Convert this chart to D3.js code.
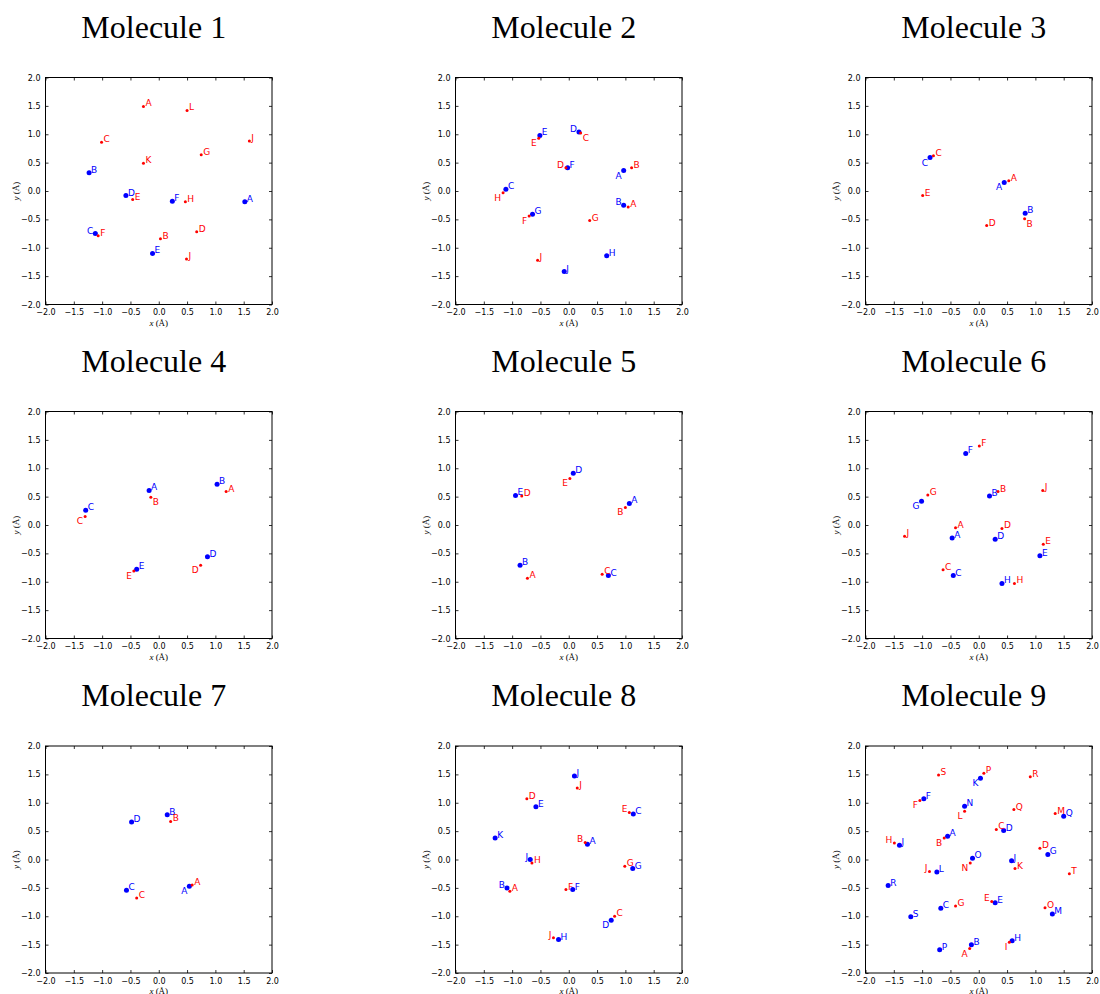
<!DOCTYPE html>
<html><head><meta charset="utf-8">
<script src="https://cdn.jsdelivr.net/npm/d3@7"></script>
<style>body{margin:0;background:#fff} svg{display:block}</style>
</head><body>
<svg id="c" width="1100" height="994"></svg>
<script>
// ---------- data ----------
const titles = ["Molecule 1","Molecule 2","Molecule 3","Molecule 4","Molecule 5","Molecule 6","Molecule 7","Molecule 8","Molecule 9"];
const tickValues = [-2,-1.5,-1,-0.5,0,0.5,1,1.5,2];
const axisDomain = [-2, 2];

const blueNames = [
  ["A","B","C","D","E","F"],
  ["A","B","C","D","E","F","G","H","J"],
  ["A","B","C"],
  ["A","B","C","D","E"],
  ["A","B","C","D","E"],
  ["A","B","C","D","E","F","G","H"],
  ["A","B","C","D"],
  ["A","B","C","D","E","F","G","H","J","J","K"],
  ["A","B","C","D","E","F","G","H","J","J","K","L","M","N","O","P","Q","R","S"]
];
const blueX = [
  [1.52,-1.23,-1.12,-0.58,-0.11,0.24],
  [0.97,0.97,-1.11,0.18,-0.51,-0.02,-0.64,0.67,-0.08],
  [0.45,0.82,-0.86],
  [-0.17,1.03,-1.29,0.86,-0.39],
  [1.07,-0.86,0.70,0.08,-0.94],
  [-0.47,0.19,-0.45,0.29,1.08,-0.23,-1.01,0.41],
  [0.54,0.15,-0.57,-0.48],
  [0.33,-1.09,1.14,0.75,-0.58,0.07,1.13,-0.18,0.10,-0.68,-1.30],
  [-0.55,-0.13,-0.67,0.44,0.29,-0.97,1.22,0.59,-1.40,0.58,0.03,-0.74,1.30,-0.25,-0.11,-0.69,1.50,-1.60,-1.20]
];
const blueY = [
  [-0.19,0.32,-0.75,-0.08,-1.10,-0.18],
  [0.36,-0.25,0.03,1.04,0.98,0.41,-0.41,-1.14,-1.42],
  [0.15,-0.39,0.59],
  [0.61,0.72,0.26,-0.56,-0.78],
  [0.38,-0.71,-0.89,0.91,0.52],
  [-0.23,0.51,-0.89,-0.25,-0.54,1.26,0.42,-1.03],
  [-0.47,0.79,-0.54,0.66],
  [0.27,-0.50,0.80,-1.07,0.93,-0.53,-0.16,-1.41,1.47,0.00,0.38],
  [0.41,-1.50,-0.86,0.51,-0.76,1.07,0.09,-1.43,0.25,-0.02,1.43,-0.22,-0.96,0.94,0.02,-1.59,0.76,-0.46,-1.01]
];
const redNames = [
  ["A","B","C","D","E","F","G","H","J","J","K","L"],
  ["A","B","C","D","E","F","G","H","J"],
  ["A","B","C","D","E"],
  ["A","B","C","D","E"],
  ["A","B","C","D","E"],
  ["A","B","C","D","E","F","G","H","J","J"],
  ["A","B","C"],
  ["A","B","C","D","E","F","G","H","J","J"],
  ["A","B","C","D","E","F","G","H","I","J","K","L","M","N","O","P","Q","R","S","T"]
];
const redX = [
  [-0.27,0.03,-1.01,0.67,-0.46,-1.07,0.75,0.47,1.60,0.49,-0.27,0.50],
  [1.05,1.11,0.21,-0.05,-0.53,-0.70,0.37,-1.16,-0.55],
  [0.53,0.81,-0.80,0.14,-0.99],
  [1.19,-0.14,-1.30,0.74,-0.44],
  [-0.73,1.00,0.59,-0.83,0.02],
  [-0.41,0.34,-0.63,0.41,1.14,0.01,-0.90,0.63,1.13,-1.31],
  [0.59,0.21,-0.39],
  [-1.04,0.29,0.81,-0.74,1.07,-0.05,0.99,-0.65,0.15,-0.27],
  [-0.16,-0.61,0.31,1.08,0.23,-1.04,-0.41,-1.49,0.54,-0.87,0.64,-0.25,1.35,-0.15,1.17,0.09,0.62,0.91,-0.71,1.60]
];
const redY = [
  [1.49,-0.84,0.86,-0.72,-0.15,-0.79,0.64,-0.19,0.88,-1.20,0.49,1.42],
  [-0.28,0.41,1.02,0.41,0.93,-0.44,-0.52,-0.03,-1.22],
  [0.18,-0.49,0.62,-0.61,-0.08],
  [0.59,0.49,0.15,-0.71,-0.81],
  [-0.94,0.31,-0.87,0.51,0.82],
  [-0.05,0.59,-0.79,-0.06,-0.34,1.39,0.53,-1.03,0.61,-0.20],
  [-0.45,0.67,-0.68],
  [-0.56,0.30,-1.00,1.07,0.83,-0.53,-0.12,-0.06,1.26,-1.38],
  [-1.57,0.38,0.53,0.20,-0.74,1.04,-0.82,0.29,-1.46,-0.21,-0.16,0.85,0.81,-0.06,-0.85,1.52,0.88,1.46,1.49,-0.25]
];
// label placement relative to the point (ur = upper right, ul, ll, lr)
const blueLabelSide = [
  ["ur","ur","ul","ur","ur","ur"],
  ["ll","ul","ur","ul","ur","ur","ur","ur","ur"],
  ["ll","ur","ll"],
  ["ur","ur","ur","ur","ur"],
  ["ur","ur","ur","ur","ur"],
  ["ur","ur","ur","ur","ur","ur","ll","ur"],
  ["ll","ur","ur","ur"],
  ["ur","ul","ur","ll","ur","ur","ur","ur","ur","ul","ur"],
  ["ur","ur","ur","ur","ur","ur","ur","ur","ur","ur","ll","ur","ur","ur","ur","ur","ur","ur","ur"]
];
const redLabelSide = [
  ["ur","ur","ur","ur","ur","ur","ur","ur","ur","ur","ur","ur"],
  ["ur","ur","lr","ul","ll","ll","ur","ll","ur"],
  ["ur","lr","ur","ur","ur"],
  ["ur","lr","ll","ll","ll"],
  ["ur","ll","ur","ur","ll"],
  ["ur","ur","ur","ur","ur","ur","ur","ur","ur","ur"],
  ["ur","ur","ur"],
  ["ur","ul","ur","ur","ul","ur","ur","ur","ur","ul"],
  ["ll","ll","ur","ur","ul","ll","ur","ul","ll","ul","ur","ll","ur","ll","ur","ur","ur","ur","ur","ur"]
];

// ---------- layout ----------
const colLeft = [45.5, 455.5, 865.5];
const rowTop = [77.5, 411.5, 746];
const W = 226.5, H = 227;
const BLUE = "#0000ff", RED = "#ff0000";
const fmt = d3.format(".1f");

const svg = d3.select("#c");

function place(side){
  switch(side){
    case "ul": return {anchor:"end", dx:-2, dy:0};
    case "ll": return {anchor:"end", dx:-2, dy:8};
    case "lr": return {anchor:"start", dx:2, dy:8};
    default:   return {anchor:"start", dx:2, dy:0};
  }
}

titles.forEach((title, i) => {
  const col = i % 3, row = Math.floor(i / 3);
  const g = svg.append("g").attr("transform", `translate(${colLeft[col]},${rowTop[row]})`);
  const x = d3.scaleLinear().domain(axisDomain).range([0, W]);
  const y = d3.scaleLinear().domain(axisDomain).range([H, 0]);

  // title
  svg.append("text")
    .attr("x", colLeft[col] + W/2 - 5)
    .attr("y", rowTop[row] - 40)
    .attr("text-anchor", "middle")
    .attr("font-family", "'Liberation Serif', 'Times New Roman', serif")
    .attr("font-size", 32)
    .attr("fill", "#000")
    .text(title);

  // axes (inward ticks)
  const axStyle = sel => {
    sel.select(".domain").remove();
    sel.selectAll("line").attr("stroke", "#000").attr("stroke-width", 0.8);
    sel.selectAll("text").attr("font-family", "'DejaVu Sans', sans-serif").attr("font-size", 8).attr("fill", "#000");
  };
  g.append("g").attr("transform", `translate(0,${H})`)
    .call(d3.axisBottom(x).tickValues(tickValues).tickFormat(fmt).tickSizeInner(-3).tickSizeOuter(0).tickPadding(5))
    .call(axStyle);
  g.append("g")
    .call(d3.axisLeft(y).tickValues(tickValues).tickFormat(fmt).tickSizeInner(-3).tickSizeOuter(0).tickPadding(5))
    .call(axStyle);
  g.append("g")
    .call(d3.axisTop(x).tickValues(tickValues).tickFormat("").tickSizeInner(-3).tickSizeOuter(0))
    .call(axStyle);
  g.append("g").attr("transform", `translate(${W},0)`)
    .call(d3.axisRight(y).tickValues(tickValues).tickFormat("").tickSizeInner(-3).tickSizeOuter(0))
    .call(axStyle);

  // frame
  g.append("rect").attr("x", 0).attr("y", 0).attr("width", W).attr("height", H)
    .attr("fill", "none").attr("stroke", "#000").attr("stroke-width", 1);

  // axis labels
  const xl = g.append("text")
    .attr("x", W/2).attr("y", H + 21)
    .attr("text-anchor", "middle")
    .attr("font-family", "'Liberation Serif', serif")
    .attr("font-size", 9).attr("fill", "#000");
  xl.append("tspan").attr("font-style", "italic").text("x");
  xl.append("tspan").text(" (Å)");
  const yl = g.append("text")
    .attr("transform", `translate(-27,${H/2}) rotate(-90)`)
    .attr("text-anchor", "middle")
    .attr("font-family", "'Liberation Serif', serif")
    .attr("font-size", 9).attr("fill", "#000");
  yl.append("tspan").attr("font-style", "italic").text("y");
  yl.append("tspan").text(" (Å)");

  // points
  const series = [
    {names: blueNames[i], xs: blueX[i], ys: blueY[i], sides: blueLabelSide[i], color: BLUE, r: 2.5},
    {names: redNames[i], xs: redX[i], ys: redY[i], sides: redLabelSide[i], color: RED, r: 1.5}
  ];
  series.forEach(s => {
    const data = s.names.map((n, k) => ({n, x: s.xs[k], y: s.ys[k], side: s.sides[k]}));
    g.append("g").selectAll("circle").data(data).join("circle")
      .attr("cx", d => x(d.x)).attr("cy", d => y(d.y)).attr("r", s.r).attr("fill", s.color);
    g.append("g").selectAll("text").data(data).join("text")
      .each(function(d){
        const p = place(d.side);
        d3.select(this)
          .attr("x", x(d.x) + p.dx).attr("y", y(d.y) + p.dy)
          .attr("text-anchor", p.anchor);
      })
      .attr("font-family", "'DejaVu Sans', sans-serif")
      .attr("font-size", 9)
      .attr("fill", s.color)
      .text(d => d.n);
  });
});
</script>
</body></html>
